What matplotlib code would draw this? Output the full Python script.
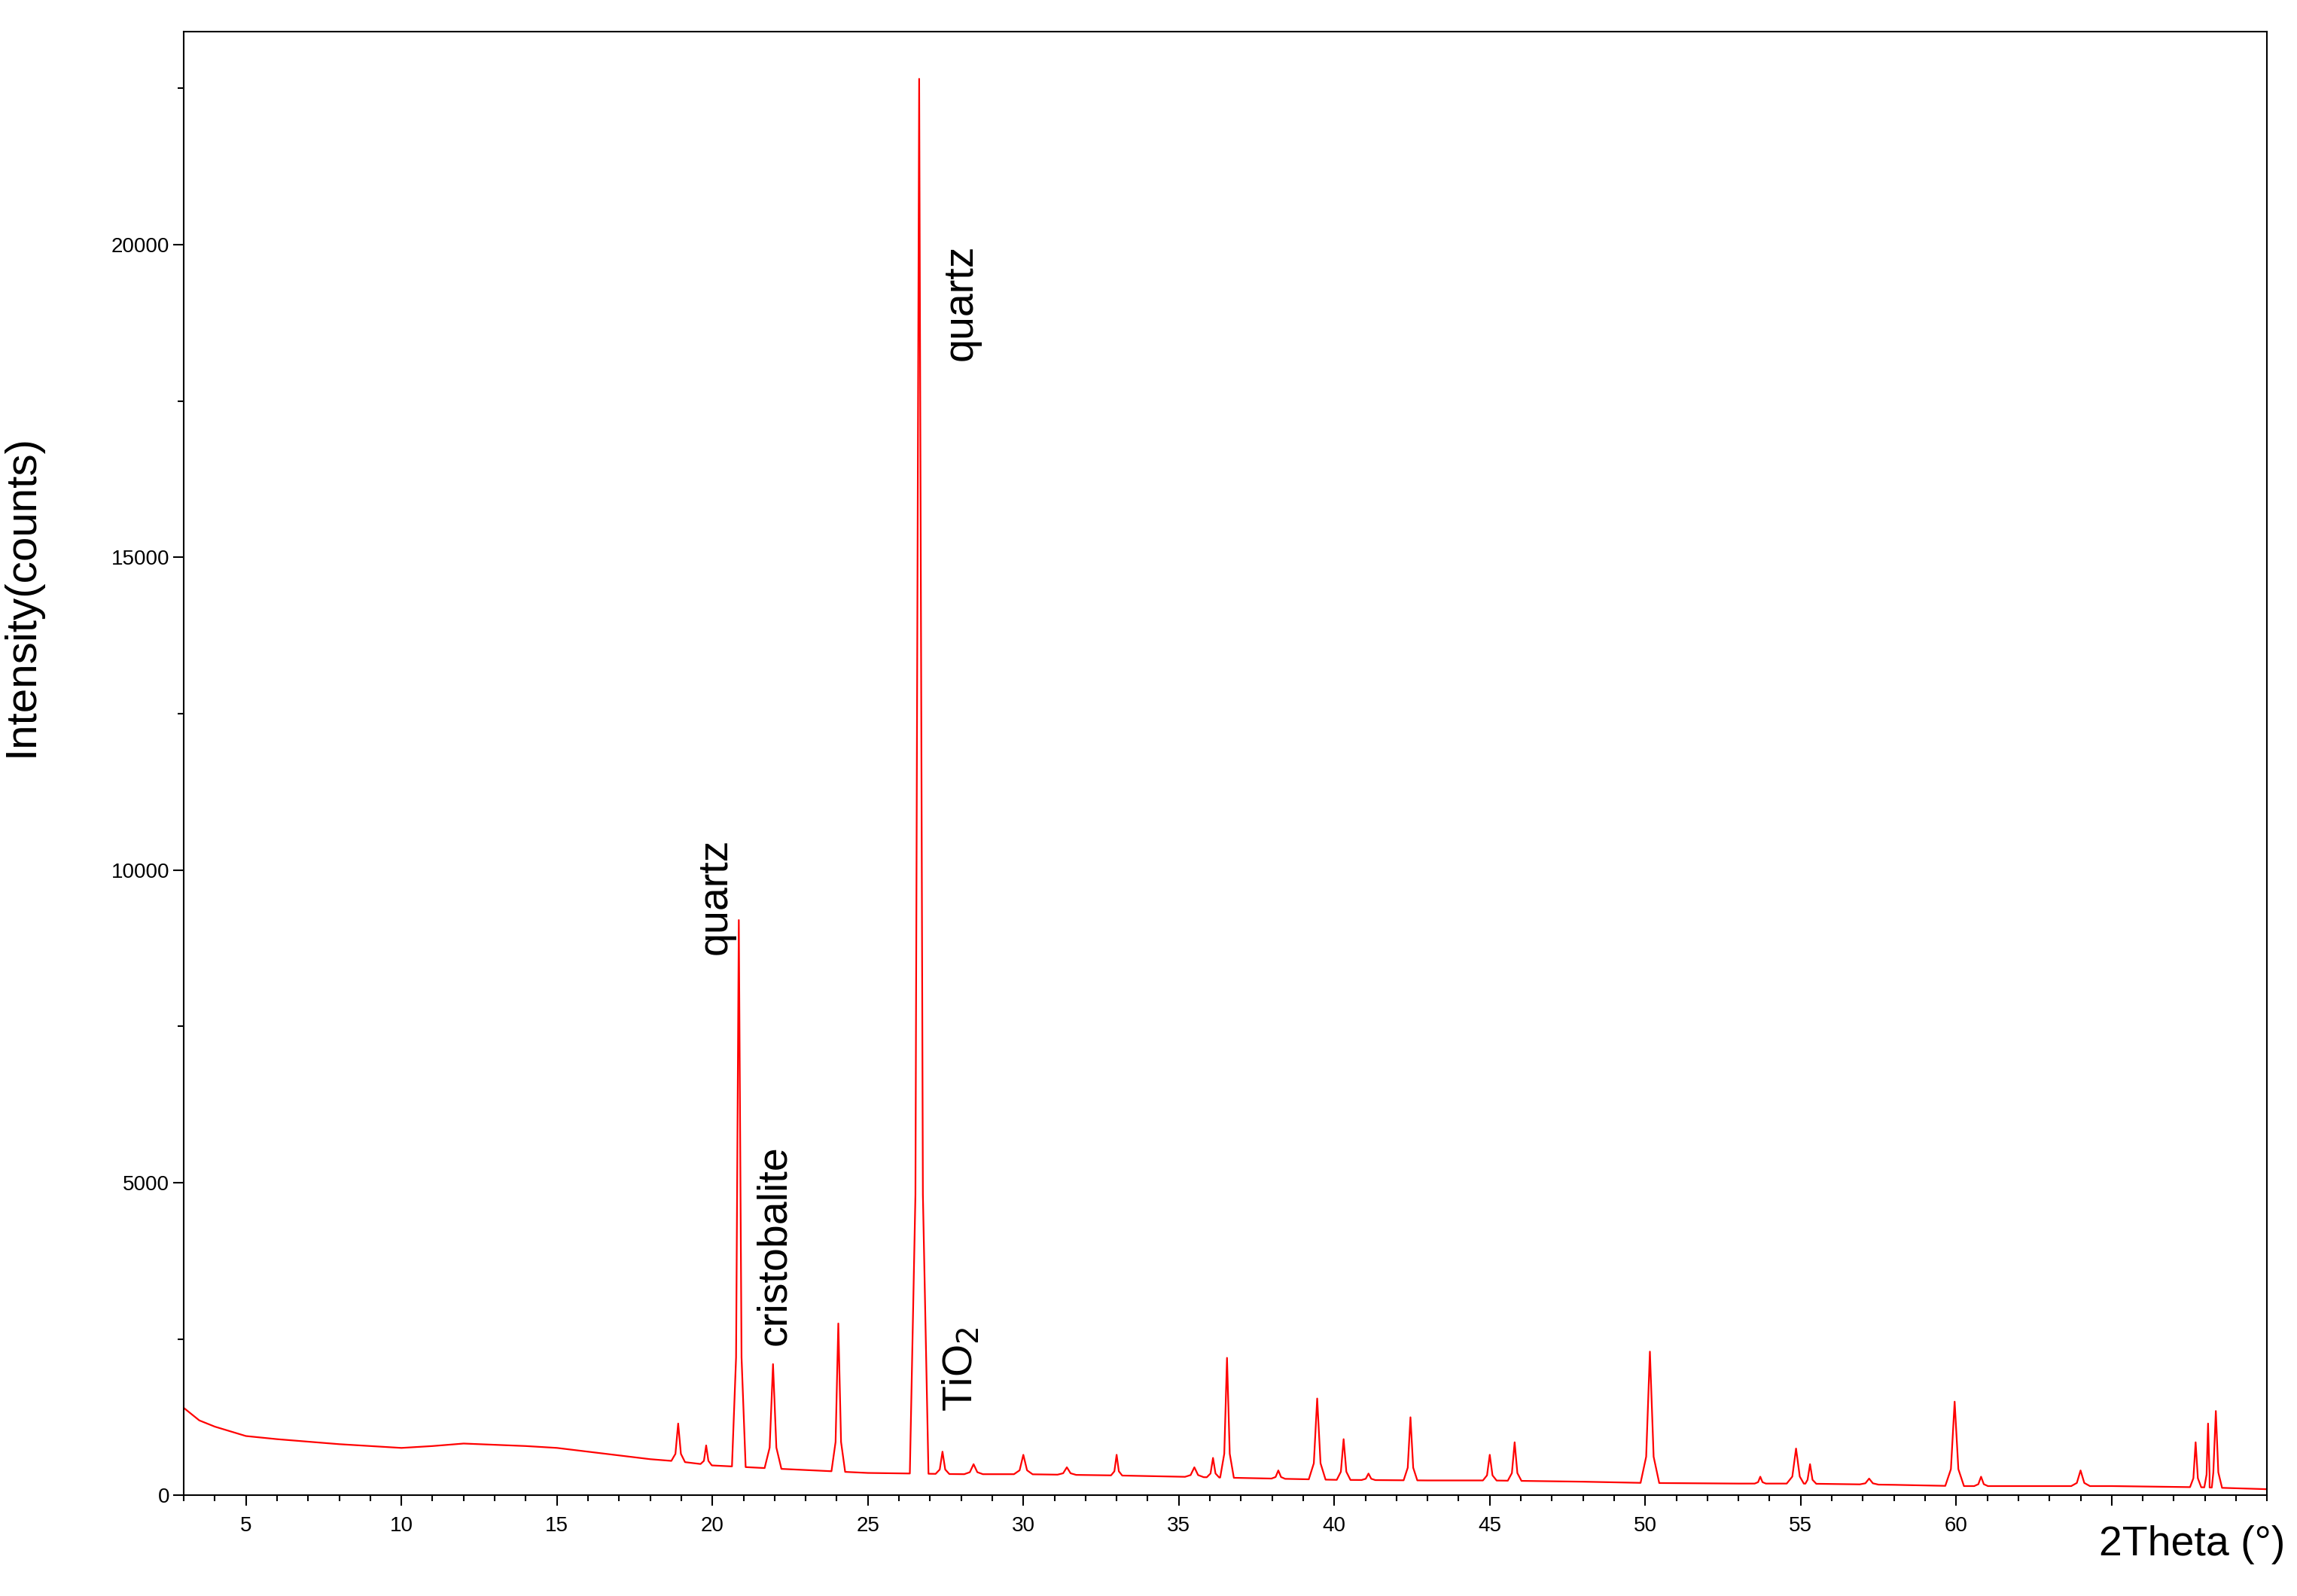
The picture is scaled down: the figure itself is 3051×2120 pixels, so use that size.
import numpy as np
import matplotlib.pyplot as plt
from matplotlib.ticker import MultipleLocator, FixedLocator

plt.rcParams['font.family'] = ['Liberation Sans', 'DejaVu Sans']

# background level
bg_x = [3, 3.5, 4, 5, 6, 8, 10, 11, 12, 13, 14, 15, 16, 17, 18, 19, 20, 22, 25,
        28, 30, 33, 35, 38, 40, 43, 45, 48, 50, 53, 55, 58, 60, 63, 65, 68, 70]
bg_y = [1400, 1200, 1100, 950, 900, 820, 760, 790, 830, 810, 790, 760, 700, 640, 580, 540, 480, 430, 360,
        340, 340, 320, 300, 270, 250, 240, 240, 220, 200, 190, 190, 170, 150, 150, 150, 130, 100]

# peaks: position (2theta), top intensity, half foot width
peak_pos = [18.9, 19.8, 20.85, 21.95, 24.05, 26.65, 27.4, 28.4, 30.0, 31.4, 33.0, 35.5, 36.1,
            36.55, 38.2, 39.45, 40.3, 41.1, 42.45, 45.0, 45.8, 50.15, 53.7, 54.85, 55.3, 57.2,
            59.95, 60.8, 64.0, 67.7, 68.1, 68.35]
peak_top = [1150, 800, 9200, 2100, 2750, 22650, 700, 500, 650, 450, 650, 450, 600,
            2200, 400, 1550, 900, 350, 1250, 650, 850, 2300, 300, 750, 500, 270,
            1500, 300, 400, 850, 1150, 1350]
peak_hw = [0.22, 0.18, 0.22, 0.27, 0.22, 0.3, 0.22, 0.3, 0.3, 0.3, 0.18, 0.3, 0.2,
           0.22, 0.22, 0.27, 0.22, 0.22, 0.22, 0.22, 0.22, 0.3, 0.18, 0.3, 0.2, 0.3,
           0.3, 0.22, 0.3, 0.18, 0.12, 0.2]

pts = [(bx, by) for bx, by in zip(bg_x, bg_y)
       if all(abs(bx - p) > w for p, w in zip(peak_pos, peak_hw))]
for p, t, w in zip(peak_pos, peak_top, peak_hw):
    b = np.interp(p, bg_x, bg_y)
    pts += [(p - w, np.interp(p - w, bg_x, bg_y)), (p - w * 0.4, b + (t - b) * 0.2),
            (p - w * 0.15, b + (t - b) * 0.7), (p, t),
            (p + w * 0.15, b + (t - b) * 0.7), (p + w * 0.4, b + (t - b) * 0.2),
            (p + w, np.interp(p + w, bg_x, bg_y))]
pts.sort()
x = [q[0] for q in pts]
y = [q[1] for q in pts]

fig = plt.figure(figsize=(30.51, 21.2), dpi=100)
ax = fig.add_axes([0.080, 0.063, 0.907, 0.917])
ax.plot(x, y, color='#ff0000', lw=1.6)
ax.set_xlim(3, 70)
ax.set_ylim(0, 23400)

ax.xaxis.set_major_locator(FixedLocator([5, 10, 15, 20, 25, 30, 35, 40, 45, 50, 55, 60, 65]))
ax.set_xticklabels(['5', '10', '15', '20', '25', '30', '35', '40', '45', '50', '55', '60', ''])
ax.xaxis.set_minor_locator(MultipleLocator(1))
ax.yaxis.set_major_locator(MultipleLocator(5000))
ax.yaxis.set_minor_locator(MultipleLocator(2500))
ax.tick_params(which='major', length=10, width=1.5, labelsize=20)
ax.tick_params(which='minor', length=6, width=1.5)
ax.tick_params(axis='x', pad=10)
for s in ax.spines.values():
    s.set_linewidth(1.5)

ax.set_ylabel('Intensity(counts)', fontsize=42)
ax.yaxis.set_label_coords(-0.068, 0.615)
fig.text(0.995, 0.02, '2Theta (°)', fontsize=40, ha='right', va='bottom')

kw = dict(rotation=90, fontsize=40, ha='center', va='bottom')
ax.text(20.1, 8650, 'quartz', **kw)
ax.text(28.0, 18150, 'quartz', **kw)
ax.text(22.0, 2400, 'cristobalite', **kw)
ax.text(28.0, 1340, 'TiO$_2$', **kw)

fig.savefig('out.png')
